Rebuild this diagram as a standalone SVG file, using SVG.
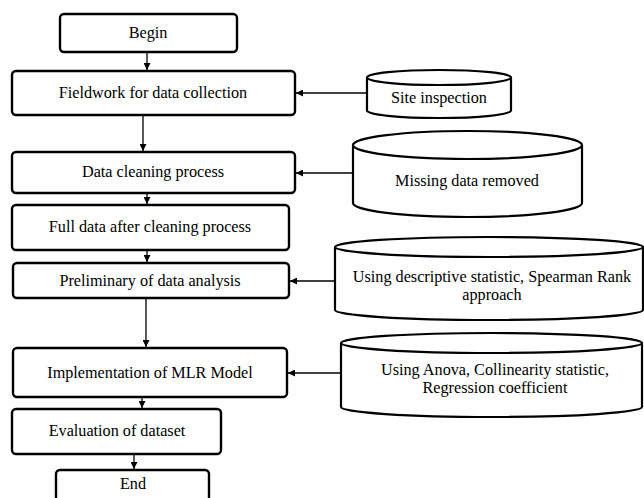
<svg xmlns="http://www.w3.org/2000/svg" width="644" height="498" viewBox="0 0 644 498">
  <style>
    .box { fill: #fff; stroke: #000; stroke-width: 2.4; }
    .cyl { fill: #fff; stroke: #000; stroke-width: 2.2; }
    .lbl { font-family: "Liberation Serif", "Times New Roman", serif; font-size: 16.2px; fill: #000; text-anchor: middle; }
    .edge { stroke: #000; stroke-width: 1.3; fill: none; marker-end: url(#arr); }
  </style>
  <defs>
    <marker id="arr" viewBox="0 0 10 10" refX="10" refY="5" markerWidth="7" markerHeight="7" markerUnits="userSpaceOnUse" orient="auto">
      <path d="M0,0 L10,5 L0,10 Z" fill="#000"/>
    </marker>
  </defs>
  <rect width="644" height="498" fill="#fff"/>

  <!-- connectors -->
  <g id="connectors">
    <line class="edge" x1="147" y1="52" x2="147" y2="70"/>
    <line class="edge" x1="143" y1="115" x2="143" y2="151"/>
    <line class="edge" x1="147" y1="193" x2="147" y2="204"/>
    <line class="edge" x1="147" y1="250" x2="147" y2="262"/>
    <line class="edge" x1="146" y1="298" x2="146" y2="347"/>
    <line class="edge" x1="142" y1="397" x2="142" y2="408"/>
    <line class="edge" x1="134" y1="454" x2="134" y2="469"/>
    <line class="edge" x1="367" y1="93" x2="296" y2="93"/>
    <line class="edge" x1="353" y1="173" x2="296" y2="173"/>
    <line class="edge" x1="335" y1="281" x2="290" y2="281"/>
    <line class="edge" x1="341" y1="373" x2="288" y2="373"/>
  </g>

  <!-- process steps -->
  <g id="begin">
    <rect class="box" x="60" y="14" width="177" height="38" rx="4"/>
    <text class="lbl" x="148" y="38">Begin</text>
  </g>
  <g id="fieldwork">
    <rect class="box" x="12" y="71" width="283" height="44" rx="4"/>
    <text class="lbl" x="153" y="98">Fieldwork for data collection</text>
  </g>
  <g id="cleaning">
    <rect class="box" x="12" y="152" width="283" height="41" rx="4"/>
    <text class="lbl" x="153" y="177">Data cleaning process</text>
  </g>
  <g id="fulldata">
    <rect class="box" x="12" y="205" width="277" height="45" rx="4"/>
    <text class="lbl" x="150" y="232">Full data after cleaning process</text>
  </g>
  <g id="preliminary">
    <rect class="box" x="13" y="263" width="276" height="35" rx="4"/>
    <text class="lbl" x="150" y="286">Preliminary of data analysis</text>
  </g>
  <g id="mlr">
    <rect class="box" x="13" y="348" width="274" height="49" rx="4"/>
    <text class="lbl" x="150" y="378">Implementation of MLR Model</text>
  </g>
  <g id="evaluation">
    <rect class="box" x="12" y="409" width="209" height="45" rx="4"/>
    <text class="lbl" x="117" y="436">Evaluation of dataset</text>
  </g>
  <g id="end">
    <rect class="box" x="56" y="470" width="153" height="40" rx="4"/>
    <text class="lbl" x="133" y="489">End</text>
  </g>

  <!-- data stores -->
  <g id="site">
    <path class="cyl" d="M367,77.5 L367,110.5 A72,7.5 0 0 0 511,110.5 L511,77.5"/>
    <ellipse class="cyl" cx="439" cy="77.5" rx="72" ry="7.5"/>
    <text class="lbl" x="439" y="103">Site inspection</text>
  </g>
  <g id="missing">
    <path class="cyl" d="M353,145 L353,203 A114.5,14 0 0 0 582,203 L582,145"/>
    <ellipse class="cyl" cx="467.5" cy="145" rx="114.5" ry="14"/>
    <text class="lbl" x="467" y="186">Missing data removed</text>
  </g>
  <g id="descriptive">
    <path class="cyl" d="M335,247 L335,310 A154,10 0 0 0 643,310 L643,247"/>
    <ellipse class="cyl" cx="489" cy="247" rx="154" ry="10"/>
    <text class="lbl" x="492" y="282">Using descriptive statistic, Spearman Rank</text>
    <text class="lbl" x="492" y="300">approach</text>
  </g>
  <g id="anova">
    <path class="cyl" d="M341,343 L341,407 A150.5,10 0 0 0 642,407 L642,343"/>
    <ellipse class="cyl" cx="491.5" cy="343" rx="150.5" ry="10"/>
    <text class="lbl" x="495" y="375">Using Anova, Collinearity statistic,</text>
    <text class="lbl" x="495" y="393">Regression coefficient</text>
  </g>
</svg>
